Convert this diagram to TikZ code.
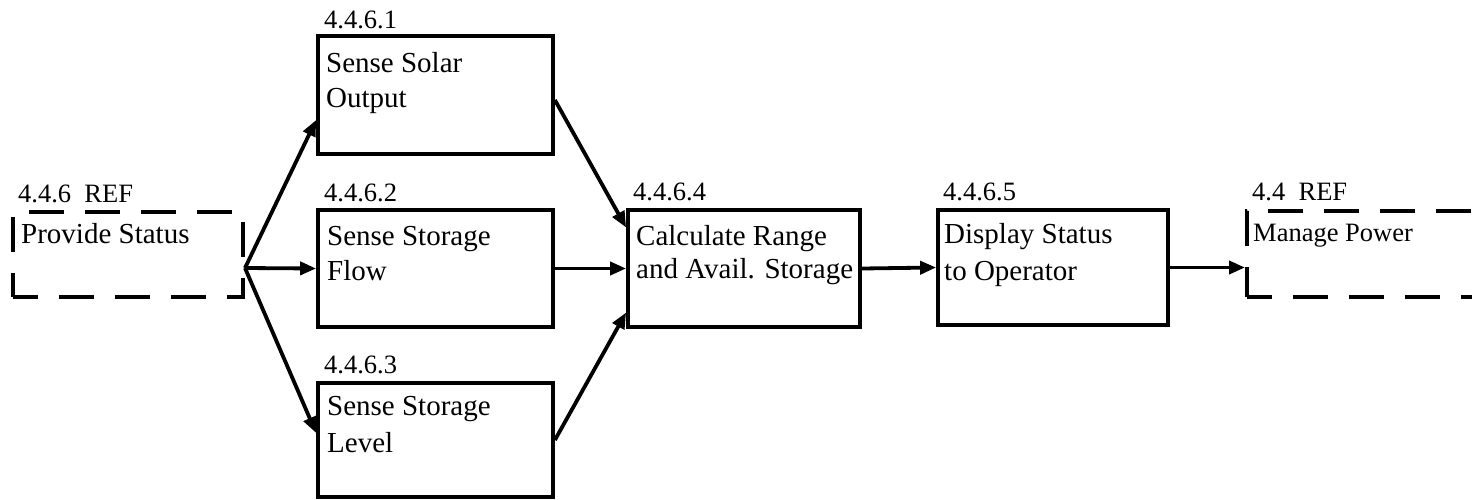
\documentclass[tikz,border=0pt]{standalone}
\usepackage{fontspec}
\setmainfont{Liberation Serif}
\usetikzlibrary{arrows.meta}
\begin{document}
\begin{tikzpicture}[x=1pt,y=-1pt,
  fbox/.style={draw=black,line width=3.8pt,inner sep=0pt,rectangle},
  refbox/.style={draw=black,line width=4pt,inner sep=0pt,rectangle,dash pattern=on 35pt off 21pt,dash phase=10pt},
  txt/.style={anchor=base west,inner sep=0pt,font=\fontsize{29}{34}\selectfont},
  lbl/.style={anchor=base west,inner sep=0pt,font=\fontsize{26.5}{30}\selectfont},
  small/.style={anchor=base west,inner sep=0pt,font=\fontsize{26.5}{30}\selectfont},
  conn/.style={line width=3.8pt,-{Triangle[length=16pt,width=13pt]}}]
\useasboundingbox (0,0) rectangle (1472,499);
% left reference box
\node[refbox,minimum width=230pt,minimum height=85pt] (lb) at (128,254.5) {};
\node[lbl] (lbt) at (18,202) {4.4.6\ \ REF};
\node[txt] (lbx) at (21,243) {Provide Status};
% right reference box
\node[refbox,minimum width=260pt,minimum height=86pt] (rb) at (1377,254) {};
\node[lbl] (rbt) at (1252,200) {4.4\ \ REF};
\node[small] (rbx) at (1253,241) {Manage Power};
% box 1
\node[fbox,minimum width=235pt,minimum height=118pt] (b1) at (435.5,95) {};
\node[lbl] (b1l) at (324,28) {4.4.6.1};
\node[txt] (b1a) at (326,72) {Sense Solar};
\node[txt] (b1b) at (326,107) {Output};
% box 2
\node[fbox,minimum width=235pt,minimum height=117pt] (b2) at (435.5,268.5) {};
\node[lbl] (b2l) at (324,201) {4.4.6.2};
\node[txt] (b2a) at (327,245) {Sense Storage};
\node[txt] (b2b) at (327,280) {Flow};
% box 3
\node[fbox,minimum width=235pt,minimum height=114pt] (b3) at (435.5,440) {};
\node[lbl] (b3l) at (324,373) {4.4.6.3};
\node[txt] (b3a) at (327,415) {Sense Storage};
\node[txt] (b3b) at (327,452) {Level};
% box 4
\node[fbox,minimum width=232pt,minimum height=117pt] (b4) at (744,268.5) {};
\node[lbl] (b4l) at (633,200) {4.4.6.4};
\node[txt] (b4a) at (636,245) {Calculate Range};
\node[txt] (b4b) at (636,278) {and Avail. Storage};
% box 5
\node[fbox,minimum width=230pt,minimum height=115pt] (b5) at (1053,267.5) {};
\node[lbl] (b5l) at (943,200) {4.4.6.5};
\node[txt] (b5a) at (944,243) {Display Status};
\node[txt] (b5b) at (944,280) {to Operator};
% connectors
\coordinate (fan) at ([yshift=-13.5pt]lb.east);
\draw[conn] (fan) -- ([yshift=-25pt]b1.west);
\draw[conn] (fan) -- (b2.west);
\draw[conn] (fan) -- ([yshift=7pt]b3.west);
\draw[conn] ([yshift=-5pt]b1.east) -- ([yshift=41pt]b4.west);
\draw[conn] (b2.east) -- (b4.west);
\draw[conn] (b3.east) -- ([yshift=-44pt]b4.west);
\draw[conn] (b4.east) -- (b5.west);
\draw[conn] (b5.east) -- (b5.east -| rb.west);
\end{tikzpicture}
\end{document}
